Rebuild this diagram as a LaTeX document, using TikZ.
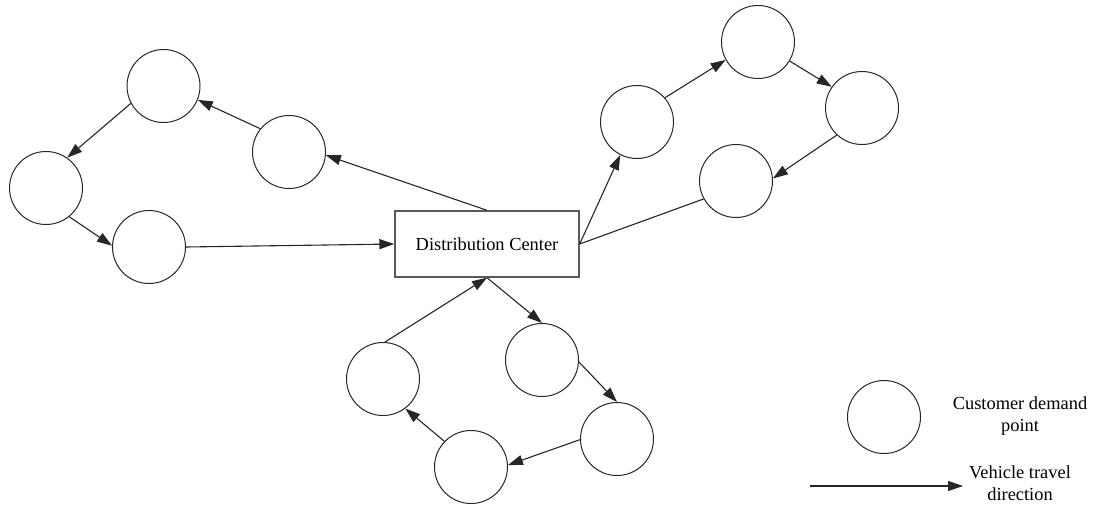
\documentclass[tikz,border=0pt]{standalone}
\usepackage{fontspec}
\setmainfont{Liberation Serif}
\usetikzlibrary{arrows.meta}
\tikzset{
	cust/.style={circle, draw=black!85, line width=1pt, minimum size=73pt, inner sep=0pt},
	depot/.style={rectangle, draw=black!65, line width=1.4pt, minimum width=184pt, minimum height=66pt},
	legendtext/.style={align=center, font=\fontsize{18.4}{22.5}\selectfont},
	route/.style={draw=black!85, line width=1.1pt, -{Triangle[length=15pt,width=10pt]}},
	plainroute/.style={draw=black!85, line width=1.1pt}
}

\begin{document}
\begin{tikzpicture}[x=1pt, y=-1pt]
		%%%%% START %%%%%
		\useasboundingbox (0, 0) rectangle (1094, 506);
		
		\node[depot, font=\fontsize{18.4}{22}\selectfont] (dc) at (487, 244) {Distribution Center};
		
		% left route
		\node[cust] (a) at (163.5, 86) {};
		\node[cust] (b) at (289, 152) {};
		\node[cust] (c) at (46, 188) {};
		\node[cust] (d) at (149, 247) {};
		
		\draw[route] (dc.north) -- (b.355);
		\draw[route] (b.141) -- (a.338);
		\draw[route] (a.208) -- (c.55);
		\draw[route] (c.309) -- (d.178);
		\draw[route] (d.east) -- (dc.west);
		
		% right route
		\node[cust] (e) at (637, 122) {};
		\node[cust] (f) at (758, 42) {};
		\node[cust] (g) at (862, 108) {};
		\node[cust] (h) at (736, 181) {};
		
		\draw[route] (dc.east) -- (e.243);
		\draw[route] (e.41) -- (f.209);
		\draw[route] (f.329) -- (g.145);
		\draw[route] (g.227) -- (h.4);
		\draw[plainroute] (h.209) -- (dc.east);
		
		% bottom route
		\node[cust] (i) at (542, 360) {};
		\node[cust] (j) at (617, 439) {};
		\node[cust] (k) at (471, 467) {};
		\node[cust] (l) at (383, 379) {};
		
		\draw[route] (dc.south) -- (i.north);
		\draw[route] (i.357) -- (j.north);
		\draw[route] (j.181) -- (k.3);
		\draw[route] (k.136) -- (l.307);
		\draw[route] (l.87) -- (dc.south);
		
		% legend
		\node[cust] (key) at (884, 417) {};
		\node[legendtext] (keytext) at (1020, 416) {Customer demand\\point};
		\coordinate (arrowstart) at (810, 486);
		\coordinate (arrowend) at (963, 486);
		\draw[route] (arrowstart) -- (arrowend);
		\node[legendtext] (arrowtext) at (1020, 483) {Vehicle travel\\direction};
		
		%%%%% END %%%%%
	\end{tikzpicture}
\end{document}
